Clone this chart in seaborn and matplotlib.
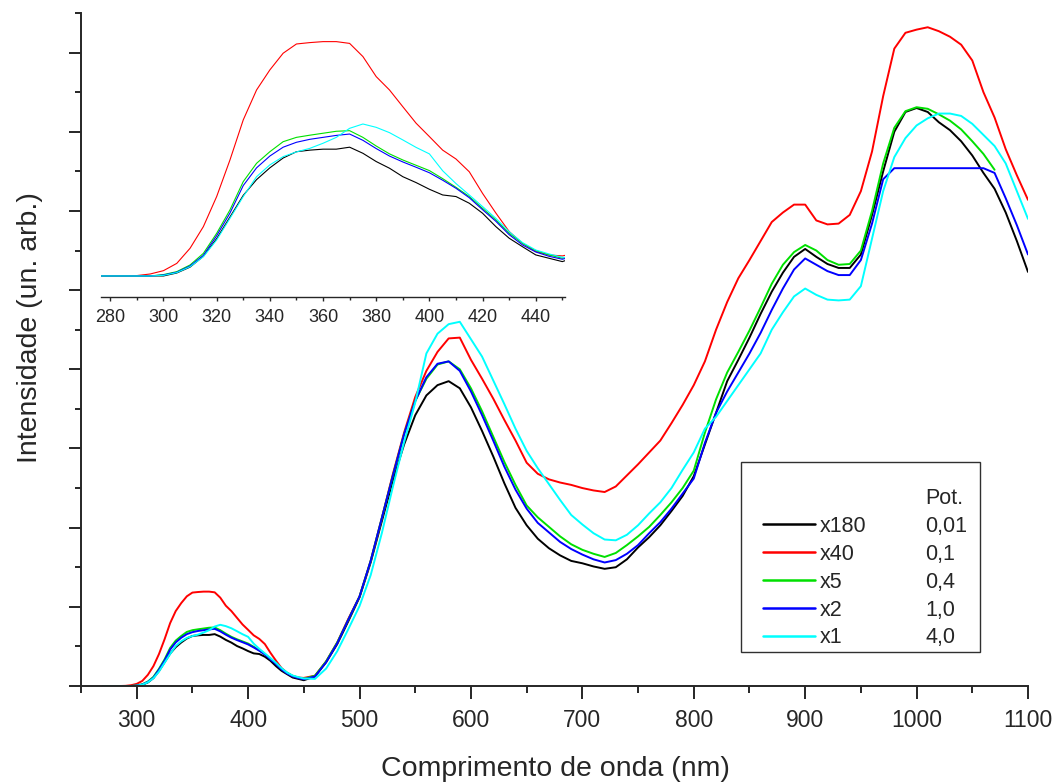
import numpy as np
import pandas as pd
import seaborn as sns
from matplotlib import pyplot as plt
from matplotlib.lines import Line2D
from matplotlib.patches import Rectangle
from matplotlib.ticker import MultipleLocator, NullFormatter

# ------------------------------------------------------------
#     data (arbitrary intensity units)
# ------------------------------------------------------------

# wavelength grid: 5 nm steps in the UV band, 10 nm steps after
wl_uv = [270, 275, 280, 285, 290, 295, 300, 305, 310, 315, 320, 325, 330, 335, 340,
         345, 350, 355, 360, 365, 370, 375, 380, 385, 390, 395, 400, 405, 410, 415,
         420, 425, 430, 435, 440, 445, 450]
wl_vis = [460, 470, 480, 490, 500, 510, 520, 530, 540, 550, 560, 570, 580, 590, 600,
          610, 620, 630, 640, 650, 660, 670, 680, 690, 700, 710, 720, 730, 740, 750,
          760, 770, 780, 790, 800, 810, 820, 830, 840, 850, 860, 870, 880, 890, 900,
          910, 920, 930, 940, 950, 960, 970, 980, 990, 1000, 1010, 1020, 1030, 1040,
          1050, 1060, 1070, 1080, 1090, 1100]
wavelength = wl_uv + wl_vis

x180 = [0, 0, 0, 0, 0, 0, 0, 0.015, 0.045, 0.10, 0.19, 0.30, 0.41, 0.49, 0.55,
        0.60, 0.632, 0.64, 0.645, 0.645, 0.655, 0.624, 0.582, 0.548, 0.505, 0.475, 0.441, 0.412, 0.404, 0.370,
        0.319, 0.251, 0.192, 0.149, 0.107, 0.090, 0.073,
        0.12, 0.30, 0.53, 0.82, 1.12, 1.56, 2.08, 2.60, 3.05, 3.42, 3.67, 3.80, 3.85, 3.76, 3.52,
        3.22, 2.90, 2.56, 2.25, 2.03, 1.86, 1.74, 1.65, 1.58, 1.55, 1.51, 1.48, 1.50, 1.60, 1.75,
        1.88, 2.03, 2.21, 2.40, 2.65, 3.05, 3.45, 3.85, 4.12, 4.40, 4.70, 4.98, 5.22, 5.42, 5.52,
        5.42, 5.33, 5.28, 5.28, 5.45, 5.95, 6.50, 7.00, 7.25, 7.30, 7.25, 7.12, 7.02, 6.88,
        6.70, 6.48, 6.28, 5.98, 5.62, 5.23]
x40 = [0, 0, 0, 0, 0.002, 0.01, 0.027, 0.064, 0.141, 0.251, 0.404, 0.590, 0.794, 0.946, 1.048,
       1.133, 1.180, 1.187, 1.192, 1.192, 1.183, 1.116, 1.014, 0.946, 0.861, 0.777, 0.709, 0.64, 0.595, 0.53,
       0.42, 0.32, 0.226, 0.166, 0.124, 0.107, 0.102,
       0.13, 0.31, 0.55, 0.85, 1.13, 1.58, 2.12, 2.68, 3.20, 3.65, 3.98, 4.22, 4.39, 4.40, 4.12,
       3.88, 3.63, 3.36, 3.10, 2.82, 2.68, 2.61, 2.57, 2.54, 2.50, 2.47, 2.45, 2.52, 2.66, 2.80,
       2.95, 3.10, 3.32, 3.55, 3.80, 4.10, 4.50, 4.85, 5.15, 5.38, 5.62, 5.86, 5.98, 6.08, 6.08,
       5.88, 5.83, 5.84, 5.95, 6.25, 6.75, 7.45, 8.05, 8.25, 8.29, 8.32, 8.27, 8.20, 8.10,
       7.90, 7.50, 7.18, 6.78, 6.45, 6.14]
x5 = [0, 0, 0, 0, 0, 0, 0.007, 0.022, 0.056, 0.115, 0.217, 0.336, 0.480, 0.573, 0.632,
      0.683, 0.705, 0.716, 0.726, 0.736, 0.739, 0.705, 0.661, 0.621, 0.590, 0.563, 0.536, 0.495, 0.451, 0.404,
      0.344, 0.285, 0.217, 0.166, 0.129, 0.107, 0.090,
      0.13, 0.31, 0.55, 0.84, 1.13, 1.58, 2.12, 2.66, 3.18, 3.60, 3.88, 4.06, 4.10, 4.00, 3.76,
      3.47, 3.15, 2.83, 2.54, 2.28, 2.13, 2.01, 1.89, 1.79, 1.72, 1.67, 1.63, 1.68, 1.78, 1.89,
      2.01, 2.16, 2.32, 2.50, 2.72, 3.20, 3.62, 3.96, 4.22, 4.49, 4.78, 5.08, 5.32, 5.48, 5.57,
      5.50, 5.38, 5.32, 5.33, 5.50, 6.00, 6.60, 7.05, 7.26, 7.31, 7.29, 7.22, 7.14, 7.03,
      6.88, 6.72, 6.52, np.nan, np.nan, np.nan]
x2 = [0, 0, 0, 0, 0, 0, 0.005, 0.019, 0.051, 0.105, 0.205, 0.32, 0.46, 0.55, 0.61,
      0.655, 0.68, 0.695, 0.705, 0.715, 0.722, 0.69, 0.648, 0.61, 0.58, 0.553, 0.525, 0.487, 0.446, 0.398,
      0.337, 0.278, 0.210, 0.158, 0.122, 0.100, 0.085,
      0.12, 0.30, 0.54, 0.84, 1.13, 1.58, 2.12, 2.66, 3.18, 3.60, 3.90, 4.07, 4.10, 3.98, 3.72,
      3.42, 3.10, 2.77, 2.48, 2.24, 2.06, 1.94, 1.82, 1.73, 1.66, 1.60, 1.56, 1.59, 1.67, 1.78,
      1.93, 2.07, 2.24, 2.43, 2.62, 3.07, 3.45, 3.72, 3.96, 4.20, 4.46, 4.75, 5.02, 5.26, 5.40,
      5.32, 5.24, 5.19, 5.19, 5.38, 5.84, 6.40, 6.54, 6.54, 6.54, 6.54, 6.54, 6.54, 6.54,
      6.54, 6.54, 6.48, 6.16, 5.82, 5.45]
x1 = [0, 0, 0, 0, 0, 0, 0.003, 0.017, 0.047, 0.098, 0.183, 0.293, 0.404, 0.505, 0.565,
      0.607, 0.631, 0.649, 0.675, 0.705, 0.751, 0.773, 0.756, 0.729, 0.692, 0.654, 0.621, 0.535, 0.47, 0.412,
      0.353, 0.293, 0.225, 0.170, 0.132, 0.112, 0.095,
      0.09, 0.22, 0.44, 0.72, 1.01, 1.40, 1.93, 2.52, 3.08, 3.58, 4.20, 4.45, 4.57, 4.60, 4.38,
      4.16, 3.86, 3.56, 3.25, 2.97, 2.75, 2.55, 2.35, 2.16, 2.04, 1.93, 1.85, 1.84, 1.91, 2.03,
      2.18, 2.32, 2.50, 2.73, 2.95, 3.25, 3.40, 3.60, 3.80, 4.00, 4.20, 4.50, 4.72, 4.92, 5.02,
      4.94, 4.88, 4.87, 4.88, 5.05, 5.65, 6.25, 6.68, 6.92, 7.08, 7.17, 7.23, 7.23, 7.20,
      7.10, 6.96, 6.82, 6.60, 6.25, 5.90]

series = ["x180", "x40", "x5", "x2", "x1"]
power = ["0,01", "0,1", "0,4", "1,0", "4,0"]
colors = ["#000000", "#ff0000", "#00e000", "#0000ff", "#00ffff"]

df = pd.DataFrame({"wl": wavelength, "x180": x180, "x40": x40, "x5": x5, "x2": x2, "x1": x1})
df = df.melt(id_vars="wl", var_name="amostra", value_name="intens").dropna()

# ------------------------------------------------------------
#     plot
# ------------------------------------------------------------

sns.set_style("ticks")
plt.rcParams["font.family"] = ["Liberation Sans", "DejaVu Sans"]

W, H = 1061, 783
fig = plt.figure(figsize=(W / 100, H / 100), dpi=100)

# main axes
ax = fig.add_axes([81 / W, (H - 686) / H, (1028 - 81) / W, (686 - 13) / H])
sns.lineplot(data=df, x="wl", y="intens", hue="amostra", hue_order=series,
             palette=colors, estimator=None, sort=False, linewidth=1.4,
             legend=False, ax=ax)
ax.set_xlim(250, 1100)
ax.set_ylim(0, 8.5)
sns.despine(ax=ax)
for s in ["left", "bottom"]:
    ax.spines[s].set_linewidth(1.4)
ax.xaxis.set_major_locator(MultipleLocator(100))
ax.xaxis.set_minor_locator(MultipleLocator(50))
ax.yaxis.set_major_locator(MultipleLocator(1))
ax.yaxis.set_minor_locator(MultipleLocator(0.5))
ax.yaxis.set_major_formatter(NullFormatter())
ax.tick_params(axis="x", which="major", length=9.4, width=1.4, labelsize=16.5, pad=7, direction="out")
ax.tick_params(axis="x", which="minor", length=5, width=1.4, direction="out")
ax.tick_params(axis="y", which="major", length=9, width=1.4, direction="out")
ax.tick_params(axis="y", which="minor", length=4, width=1.4, direction="out")
ax.set_xlabel("Comprimento de onda (nm)", fontsize=20.5)
ax.set_ylabel("Intensidade (un. arb.)", fontsize=20.5)
ax.xaxis.set_label_coords(0.501, -0.104)
ax.yaxis.set_label_coords(-0.0405, 0.532)

# inset: zoom on the UV band
ax_in = fig.add_axes([101 / W, (H - 297) / H, (565 - 101) / W, (297 - 20) / H])
ax_in.set_facecolor("none")
sns.lineplot(data=df, x="wl", y="intens", hue="amostra", hue_order=series,
             palette=colors, estimator=None, sort=False, linewidth=0.8,
             legend=False, ax=ax_in)
ax_in.set_xlim(276.5, 451)
ax_in.set_ylim(-0.107, 1.302)
for s in ["left", "top", "right"]:
    ax_in.spines[s].set_visible(False)
ax_in.spines["bottom"].set_linewidth(1.0)
ax_in.xaxis.set_major_locator(MultipleLocator(20))
ax_in.xaxis.set_minor_locator(MultipleLocator(10))
ax_in.tick_params(axis="x", which="major", length=3, width=1.0, labelsize=13, pad=6)
ax_in.tick_params(axis="x", which="minor", length=2, width=1.0)
ax_in.tick_params(axis="y", left=False, labelleft=False)
ax_in.set_xlabel("")
ax_in.set_ylabel("")

# legend: a blank header row, then samples with their power column
blank = Line2D([], [], color="none")
handles = [blank] + [Line2D([], [], color=c, lw=1.8) for c in colors] + [blank] * 6
labels = [""] + series + ["Pot."] + power
fig.legend(handles, labels, ncol=2, loc="upper left",
           bbox_to_anchor=(763 / W, 1 - 488 / H), frameon=False,
           borderpad=0, borderaxespad=0, handlelength=2.4, handletextpad=0.23,
           columnspacing=0.1, labelspacing=0.32, prop={"size": 15.5})
fig.add_artist(Rectangle((741 / W, 1 - 652 / H), (980 - 741) / W, (652 - 462) / H,
                         transform=fig.transFigure, fill=False,
                         edgecolor="#303030", linewidth=1.0))

plt.savefig("out.png", dpi=100)
